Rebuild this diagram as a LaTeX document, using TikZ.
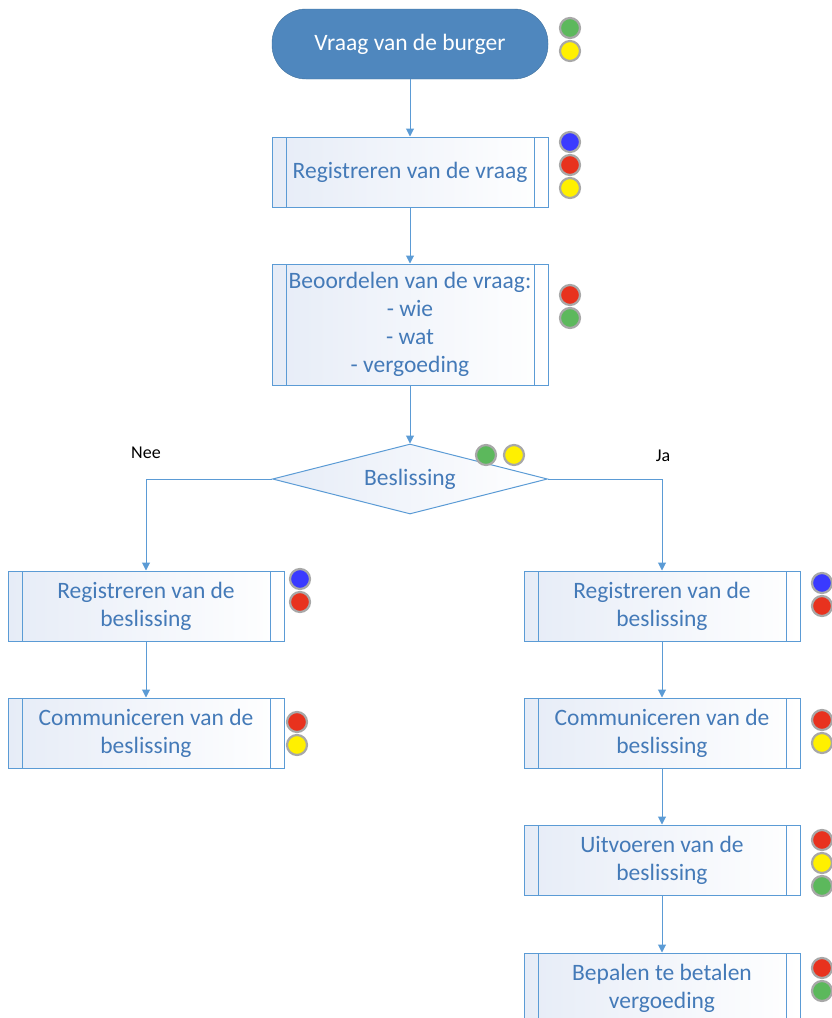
\documentclass[tikz,border=0pt]{standalone}
\usepackage{fontspec}
\setmainfont{Carlito}
\usetikzlibrary{arrows.meta,shapes.geometric}
\definecolor{Ec}{HTML}{4F87BE}
\definecolor{Ed}{HTML}{41719C}
\definecolor{Ln}{HTML}{5B9BD5}
\definecolor{Tx}{HTML}{447AB8}
\definecolor{Sh}{HTML}{E6ECF7}
\definecolor{Gc}{HTML}{5CB85C}
\definecolor{Yc}{HTML}{FFF000}
\definecolor{Rc}{HTML}{E8321E}
\definecolor{Bc}{HTML}{3A3AFF}
\definecolor{rim}{HTML}{A8A8A8}
\tikzset{
  ends/.style={rectangle, rounded corners=34pt, fill=Ec, draw=Ed, text=white,
    minimum width=276pt, minimum height=70pt, font=\fontsize{23.5}{28}\selectfont},
  proc/.style={rectangle, draw=Ln, line width=1pt, left color=Sh, right color=white, text=Tx,
    minimum width=276pt, minimum height=70pt, inner sep=0pt, align=center,
    font=\fontsize{23.5}{28}\selectfont,
    path picture={
      \draw[Ln] ([xshift=14pt]path picture bounding box.north west) -- ([xshift=14pt]path picture bounding box.south west);
      \draw[Ln] ([xshift=-14pt]path picture bounding box.north east) -- ([xshift=-14pt]path picture bounding box.south east);}},
  choice/.style={diamond, aspect=4, draw=Ln, line width=1pt, left color=Sh, right color=white, text=Tx,
    minimum width=275pt, minimum height=70pt, inner sep=0pt, font=\fontsize{23.5}{28}\selectfont},
  lamp/.style={circle, draw=rim, line width=2.2pt, inner sep=0pt, minimum size=20pt},
  flow/.style={Ln, line width=1pt, -{Triangle[length=8pt, width=8pt]}},
  side/.style={font=\fontsize{18}{20}\selectfont, text=black},
}
\newcommand{\lamps}[4]{% name, x, y, colours (top to bottom)
  \foreach \c [count=\i from 0] in {#4} \node[lamp, fill=\c] (#1\i) at (#2, #3+23*\i) {};}

\begin{document}
\begin{tikzpicture}[x=1pt, y=-1pt]
  \useasboundingbox (0,0) rectangle (831,1018);
  % main column
  \node[ends] (start) at (410,44) {Vraag van de burger};
  \node[proc] (reg) at (410,172) {Registreren van de vraag};
  \node[proc, minimum height=121pt] (beo) at (410,324.5) {Beoordelen van de vraag:\\- wie\\- wat\\- vergoeding};
  \node[choice] (dec) at (410,479) {Beslissing};
  % nee branch
  \node[proc] (nreg) at (146,606) {Registreren van de\\beslissing};
  \node[proc] (ncom) at (146,733) {Communiceren van de\\beslissing};
  % ja branch
  \node[proc] (jreg) at (662,606) {Registreren van de\\beslissing};
  \node[proc] (jcom) at (662,733) {Communiceren van de\\beslissing};
  \node[proc] (jexe) at (662,860) {Uitvoeren van de\\beslissing};
  \node[proc] (jpay) at (662,988) {Bepalen te betalen\\vergoeding};
  % connectors
  \draw[flow] (start) -- (reg);
  \draw[flow] (reg) -- (beo);
  \draw[flow] (beo) -- (dec);
  \draw[flow] (dec.west) -| (nreg.north);
  \draw[flow] (nreg) -- (ncom);
  \draw[flow] (dec.east) -| (jreg.north);
  \draw[flow] (jreg) -- (jcom);
  \draw[flow] (jcom) -- (jexe);
  \draw[flow] (jexe) -- (jpay);
  \node[side] (nee) at (146,453) {Nee};
  \node[side] (ja) at (663,456) {Ja};
  % status lights
  \lamps{ls}{570}{28}{Gc,Yc}
  \lamps{lr}{570}{142}{Bc,Rc,Yc}
  \lamps{lb}{570}{295}{Rc,Gc}
  \node[lamp, fill=Gc] (ld0) at (486,455) {};
  \node[lamp, fill=Yc] (ld1) at (514,455) {};
  \lamps{lnr}{300}{579}{Bc,Rc}
  \lamps{lnc}{297}{722}{Rc,Yc}
  \lamps{ljr}{822}{583}{Bc,Rc}
  \lamps{ljc}{822}{720}{Rc,Yc}
  \lamps{lje}{822}{840}{Rc,Yc,Gc}
  \lamps{ljp}{822}{968}{Rc,Gc}
\end{tikzpicture}
\end{document}
